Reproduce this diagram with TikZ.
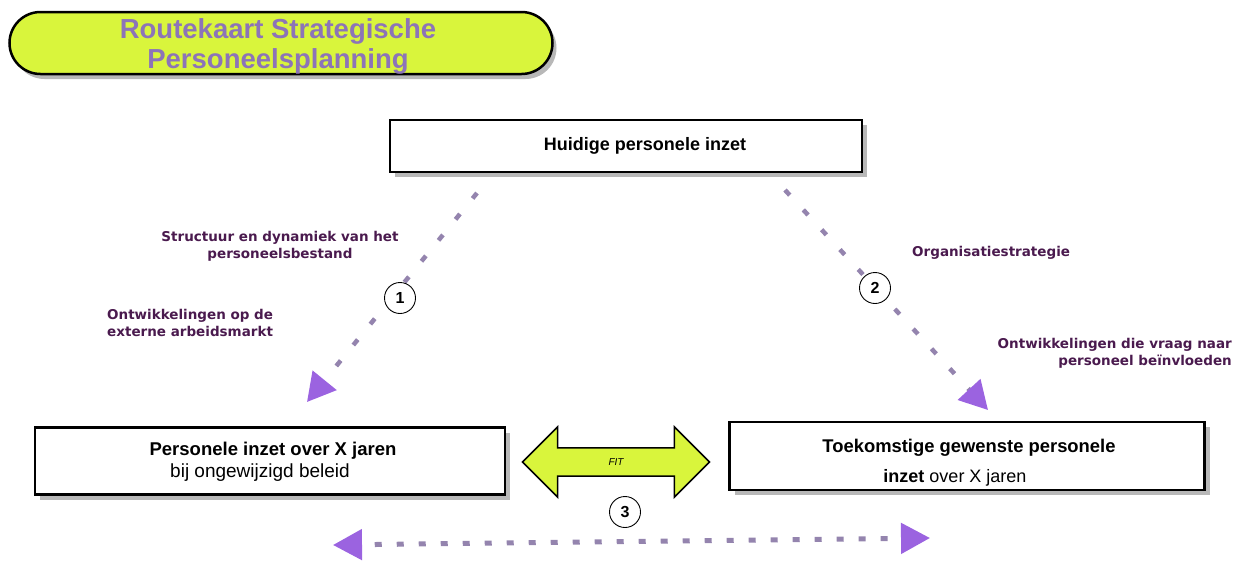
\documentclass[tikz,border=0pt]{standalone}
\usepackage{fontspec}
\setmainfont{Liberation Sans}
\newfontfamily\labelfont{DejaVu Sans}
\usepackage{tikz}
\usetikzlibrary{arrows.meta}
\usetikzlibrary{shapes.arrows}
\usetikzlibrary{shapes.misc}
\usetikzlibrary{shadows}
\usetikzlibrary{positioning}
\definecolor{RouteLime}{HTML}{D9F53C}
\definecolor{RouteTitle}{HTML}{8C74B8}
\definecolor{RouteLabel}{HTML}{4A1A4E}
\definecolor{RouteDash}{HTML}{9484AE}
\definecolor{RouteTip}{HTML}{9B63E0}
\definecolor{RouteShadow}{HTML}{B8B8B8}
\tikzset{
  planbox/.style={draw=black, line width=2.5pt, fill=white, inner sep=0pt,
    drop shadow={shadow xshift=5pt, shadow yshift=-5pt, fill=RouteShadow, opacity=1}},
  boxtext/.style={font=\fontsize{18}{20}\selectfont\bfseries, inner sep=1pt},
  subtext/.style={font=\fontsize{18}{20}\selectfont, inner sep=1pt},
  sidelabel/.style={text=RouteLabel, font=\labelfont\fontsize{13.5}{17}\selectfont\bfseries, inner sep=1pt},
  numcirc/.style={circle, draw=black, line width=0.9pt, fill=white, minimum size=31pt, inner sep=0pt,
    font=\fontsize{16}{16}\selectfont\bfseries},
  dashline/.style={draw=RouteDash, line width=4.5pt, dash pattern=on 7pt off 20pt},
  bigtip/.style={-{Triangle[length=28pt, width=30pt, color=RouteTip]}},
}
\begin{document}
\begin{tikzpicture}[x=1pt,y=-1pt]
  \useasboundingbox (0,0) rectangle (1235,560);

  % ----- TITLE -----
  \node[rounded rectangle, draw=black, line width=2.5pt, fill=RouteLime,
        minimum width=543pt, minimum height=62pt, inner sep=0pt,
        drop shadow={shadow xshift=4pt, shadow yshift=-5pt, fill=RouteShadow, opacity=1}]
    (title) at (281,43) {};
  \node[text=RouteTitle, align=center, font=\fontsize{27.5}{30}\selectfont\bfseries]
    at ([xshift=-3pt,yshift=-3pt]title.center) {Routekaart Strategische\\Personeelsplanning};

  % ----- BOXES -----
  \node[planbox, minimum width=472pt, minimum height=52pt] (huidig) at (626,146) {};
  \node[boxtext] (huidigtxt) at ([xshift=19pt]huidig.center) {Huidige personele inzet};

  \node[planbox, minimum width=470pt, minimum height=67pt] (pinzet) at (270,461) {};
  \node[boxtext, font=\fontsize{18.5}{20}\selectfont\bfseries] (pinzet1)
    at ([xshift=3pt,yshift=10pt]pinzet.center) {Personele inzet over X jaren};
  \node[subtext, font=\fontsize{19}{20}\selectfont] (pinzet2)
    at ([xshift=-10pt,yshift=-12pt]pinzet.center) {bij ongewijzigd beleid};

  \node[planbox, minimum width=475pt, minimum height=68pt] (toekomst) at (967,456) {};
  \node[boxtext, font=\fontsize{18.4}{20}\selectfont\bfseries] (toekomst1)
    at ([xshift=2pt,yshift=8pt]toekomst.center) {Toekomstige gewenste personele};
  \node[subtext] (toekomst2) at ([xshift=-12pt,yshift=-22pt]toekomst.center) {\textbf{inzet} over X jaren};

  % fit arrow
  \node[double arrow, draw=black, line width=1.5pt, fill=RouteLime,
        minimum width=70pt, minimum height=187pt, double arrow head extend=21pt,
        inner xsep=0pt, inner ysep=10pt, font=\fontsize{10}{10}\selectfont\itshape]
    (fit) at (616,462) {\phantom{FIT}};
  \node[font=\fontsize{10}{10}\selectfont\itshape] at (fit.center) {FIT};

  % ----- CONNECTORS -----
  \coordinate (d1s) at (477,193);
  \coordinate (d1e) at (307,402);
  \coordinate (d2s) at (785,190);
  \coordinate (d2e) at (988,410);
  \coordinate (d3s) at (333,545);
  \coordinate (d3e) at (930,538);
  \draw[dashline, bigtip] (d1s) -- (d1e);
  \draw[dashline, bigtip] (d2s) -- (d2e);
  \draw[draw=RouteDash, line width=5pt, dash pattern=on 7pt off 15pt, dash phase=-14pt,
        {Triangle[length=29pt, width=30pt, color=RouteTip]}-{Triangle[length=29pt, width=30pt, color=RouteTip]}]
    (d3s) -- (d3e);

  \node[numcirc] (n1) at (400,298) {1};
  \node[numcirc] (n2) at (875,288) {2};
  \node[numcirc] (n3) at (625,512) {3};

  % ----- LABELS -----
  \node[sidelabel, align=center] (lab1) at (280,246) {Structuur en dynamiek van het\\personeelsbestand};
  \node[sidelabel, align=left, anchor=west] (lab2) at (106,323) {Ontwikkelingen op de\\externe arbeidsmarkt};
  \node[sidelabel, anchor=west] (lab3) at (911,253) {Organisatiestrategie};
  \node[sidelabel, align=right, anchor=east] (lab4) at (1233,353) {Ontwikkelingen die vraag naar\\personeel beïnvloeden};
\end{tikzpicture}
\end{document}
